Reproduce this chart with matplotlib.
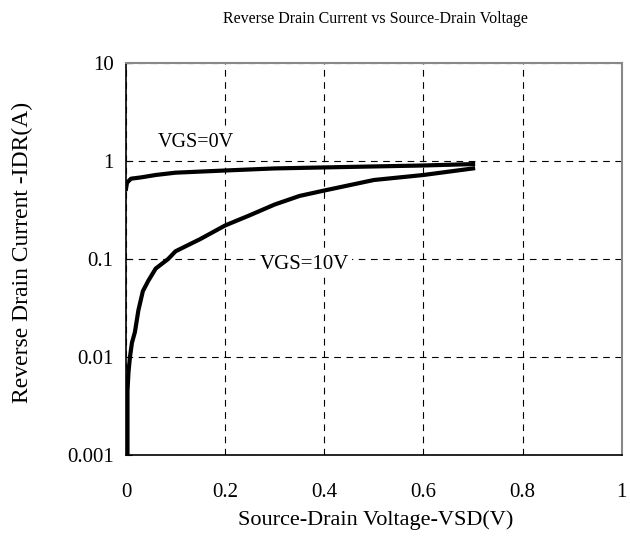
import matplotlib
matplotlib.use("Agg")
import matplotlib.pyplot as plt

plt.rcParams['font.family'] = ['Liberation Serif', 'DejaVu Serif']

title = "Reverse Drain Current vs Source-Drain Voltage"
xlabel = "Source-Drain Voltage-VSD(V)"
ylabel = "Reverse Drain Current -IDR(A)"

vgs0_x = [0, 0.002, 0.01, 0.03, 0.06, 0.1, 0.15, 0.2, 0.3, 0.4, 0.5, 0.6, 0.7]
vgs0_y = [0.52, 0.6, 0.66, 0.68, 0.72, 0.76, 0.78, 0.8, 0.84, 0.86, 0.88, 0.9, 0.93]

vgs10_x = [0.003, 0.003, 0.005, 0.008, 0.012, 0.018, 0.025, 0.034, 0.045, 0.06,
           0.085, 0.1, 0.15, 0.2, 0.25, 0.3, 0.35, 0.4, 0.5, 0.6, 0.7]
vgs10_y = [0.001, 0.0045, 0.007, 0.01, 0.014, 0.018, 0.03, 0.047, 0.06, 0.08,
           0.1, 0.12, 0.16, 0.22, 0.28, 0.36, 0.44, 0.5, 0.64, 0.72, 0.84]

xticks = [0, 0.2, 0.4, 0.6, 0.8, 1]
xticklabels = ["0", "0.2", "0.4", "0.6", "0.8", "1"]
yticks = [0.001, 0.01, 0.1, 1, 10]
yticklabels = ["0.001", "0.01", "0.1", "1", "10"]

fig = plt.figure(figsize=(6.3, 5.43), dpi=100)
ax = fig.add_axes([0.2, 0.162, 0.787, 0.722])

ax.plot(vgs0_x, vgs0_y, color='black', lw=3, solid_joinstyle='round', zorder=3)
ax.plot(vgs10_x, vgs10_y, color='black', lw=3, solid_joinstyle='round', zorder=3)

ax.set_yscale('log')
ax.set_xlim(0, 1)
ax.set_ylim(0.001, 10)
ax.set_xticks(xticks)
ax.set_xticklabels(xticklabels)
ax.set_yticks(yticks)
ax.set_yticklabels(yticklabels)
ax.minorticks_off()
ax.tick_params(axis='x', labelsize=15, length=0, pad=20)
ax.tick_params(axis='y', labelsize=15, length=4, direction='in', pad=9)

ax.grid(True, which='major', color='black', linestyle=(0, (6, 5)), linewidth=0.8)
for s in ['left', 'bottom']:
    ax.spines[s].set_color('black')
    ax.spines[s].set_linewidth(1.2)
for s in ['top', 'right']:
    ax.spines[s].set_color('#888888')
    ax.spines[s].set_linewidth(1.5)

fig.text(376 / 630, 1 - 520 / 543, xlabel, fontsize=16, ha='center', va='center')
fig.text(22 / 630, 1 - 252 / 543, ylabel, fontsize=17, ha='center', va='center',
         rotation=90)
fig.text(375 / 630, 1 - 19 / 543, title, fontsize=11.5, ha='center', va='center')

box = dict(facecolor='white', edgecolor='none', pad=2)
ax.text(0.065, 1.55, "VGS=0V", fontsize=14.5, ha='left', va='center', bbox=box, zorder=4)
ax.text(0.27, 0.088, "VGS=10V", fontsize=15, ha='left', va='center', bbox=box, zorder=4)

fig.savefig("out.png", dpi=100)
